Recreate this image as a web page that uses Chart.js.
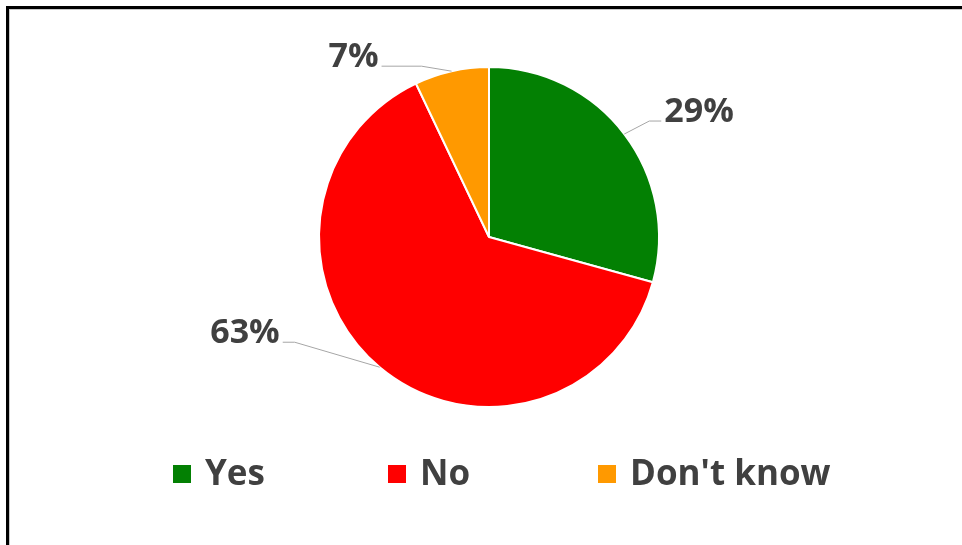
<!DOCTYPE html>
<html>
<head>
<meta charset="utf-8">
<script src="https://cdn.jsdelivr.net/npm/chart.js@4.4.1/dist/chart.umd.min.js"></script>
<style>
  html, body { margin: 0; padding: 0; background: #ffffff; }
  #wrap { position: relative; width: 962px; height: 545px; overflow: hidden; background: #fff; }
  #frame { position: absolute; left: 6px; top: 6px; right: -10px; bottom: -10px;
           border-left: 3px solid #000; border-top: 3px solid #000; box-sizing: border-box; }
  #inner { position: absolute; left: 9px; top: 9px; right: -10px; bottom: -10px;
           border-left: 1px solid #c8c8c8; border-top: 1px solid #c8c8c8; box-sizing: border-box; }
  canvas { position: absolute; left: 0; top: 0; }
</style>
</head>
<body>
<div id="wrap">
  <canvas id="c" width="962" height="545"></canvas>
  <div id="frame"></div>
  <div id="inner"></div>
</div>
<script>
const categories = ['Yes', 'No', "Don't know"];
const values = [29, 63, 7];
const sliceColors = ['#038003', '#ff0000', '#ff9900'];

// layout hints for leader lines / labels (relative to the arc's outer mid point)
const labelLayout = [
  { elbow: [25, -13], end: [37, -13], align: 'left' },
  { elbow: [-85, -25], end: [-97, -25], align: 'right' },
  { elbow: [-30, -5], end: [-70, -5], align: 'right' }
];
const legendXs = [173, 388, 598];
const legendY = 474;
const textColor = '#404040';

const labelPlugin = {
  id: 'pctLabels',
  afterDatasetsDraw(chart) {
    const ctx = chart.ctx;
    const meta = chart.getDatasetMeta(0);
    ctx.save();
    meta.data.forEach((arc, i) => {
      const p = arc.getProps(['x', 'y', 'startAngle', 'endAngle', 'outerRadius'], true);
      const mid = (p.startAngle + p.endAngle) / 2;
      const ax = p.x + Math.cos(mid) * p.outerRadius;
      const ay = p.y + Math.sin(mid) * p.outerRadius;
      const L = labelLayout[i];
      const ex = ax + L.elbow[0], ey = ay + L.elbow[1];
      const tx = ax + L.end[0], ty = ay + L.end[1];
      ctx.strokeStyle = '#a6a6a6';
      ctx.lineWidth = 1;
      ctx.beginPath();
      ctx.moveTo(ax, ay);
      ctx.lineTo(ex, ey);
      ctx.lineTo(tx, ty);
      ctx.stroke();
      ctx.fillStyle = textColor;
      ctx.font = 'bold 34px "Open Sans", sans-serif';
      ctx.textBaseline = 'alphabetic';
      ctx.textAlign = L.align;
      const txt = chart.data.datasets[0].data[i] + '%';
      ctx.fillText(txt, L.align === 'left' ? tx + 3 : tx - 3, ty + 1);
    });
    ctx.restore();
  }
};

const legendPlugin = {
  id: 'customLegend',
  afterDraw(chart) {
    const ctx = chart.ctx;
    const ds = chart.data.datasets[0];
    ctx.save();
    chart.data.labels.forEach((lab, i) => {
      const x = legendXs[i];
      ctx.fillStyle = ds.backgroundColor[i];
      ctx.fillRect(x, legendY - 9, 18, 18);
      ctx.fillStyle = textColor;
      ctx.font = 'bold 35px "Open Sans", sans-serif';
      ctx.textAlign = 'left';
      ctx.textBaseline = 'alphabetic';
      ctx.fillText(lab, x + 32, legendY + 11);
    });
    ctx.restore();
  }
};

new Chart(document.getElementById('c'), {
  type: 'pie',
  data: {
    labels: categories,
    datasets: [{
      data: values,
      backgroundColor: sliceColors,
      borderColor: '#ffffff',
      borderWidth: 2,
      hoverOffset: 0
    }]
  },
  options: {
    responsive: false,
    animation: false,
    events: [],
    layout: { padding: { top: 66, bottom: 137, left: 16, right: 0 } },
    plugins: {
      legend: { display: false },
      tooltip: { enabled: false }
    }
  },
  plugins: [labelPlugin, legendPlugin]
});
</script>
</body>
</html>
